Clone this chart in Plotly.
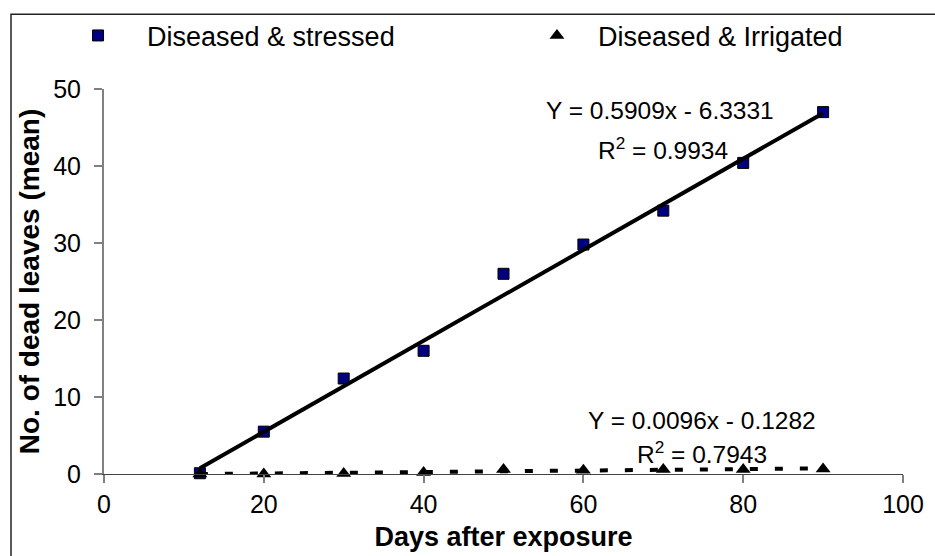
import plotly.graph_objects as go

# Mean number of dead leaves by days after exposure
days = [12, 20, 30, 40, 50, 60, 70, 80, 90]
stressed = [0.1, 5.5, 12.4, 16.0, 26.0, 29.8, 34.2, 40.4, 47.0]
irrigated = [0.0, 0.0, 0.05, 0.2, 0.6, 0.5, 0.6, 0.6, 0.65]

# Linear trendline coefficients (slope, intercept) and R-squared
stressed_fit = [0.5909, -6.3331]
stressed_r2 = 0.9934
irrigated_fit = [0.0096, -0.1282]
irrigated_r2 = 0.7943

x_ticks = [0, 20, 40, 60, 80, 100]
y_ticks = [0, 10, 20, 30, 40, 50]

FONT = "Arial, Liberation Sans, sans-serif"


def fit_line(coef, xs):
    return [coef[0] * x + coef[1] for x in xs]


def fmt_eq(coef):
    sign = "-" if coef[1] < 0 else "+"
    return f"Y = {coef[0]:.4f}x {sign} {abs(coef[1]):.4f}"


trend_x = [days[0], days[-1]]

fig = go.Figure()

fig.add_trace(go.Scatter(
    x=days, y=stressed, mode="markers", name="Diseased & stressed",
    marker=dict(symbol="square", size=11, color="#000080",
                line=dict(color="black", width=1)),
    cliponaxis=False, legend="legend",
))
fig.add_trace(go.Scatter(
    x=days, y=irrigated, mode="markers", name="Diseased & Irrigated",
    marker=dict(symbol="triangle-up", size=13, color="black",
                line=dict(color="black", width=0)),
    cliponaxis=False, legend="legend2",
))
fig.add_trace(go.Scatter(
    x=trend_x, y=fit_line(stressed_fit, trend_x), mode="lines",
    line=dict(color="black", width=4), showlegend=False, cliponaxis=False,
))
fig.add_trace(go.Scatter(
    x=trend_x, y=fit_line(irrigated_fit, trend_x), mode="lines",
    line=dict(color="black", width=4, dash="8px,17px"), showlegend=False,
    cliponaxis=False,
))

annotations = [
    dict(x=69.6, y=47.2, text=fmt_eq(stressed_fit)),
    dict(x=70.0, y=42.3, text=f"R<sup>2</sup> = {stressed_r2:.4f}"),
    dict(x=74.9, y=6.9, text=fmt_eq(irrigated_fit)),
    dict(x=74.9, y=2.8, text=f"R<sup>2</sup> = {irrigated_r2:.4f}"),
]
for a in annotations:
    a.update(xref="x", yref="y", showarrow=False,
             font=dict(family=FONT, size=24.5, color="black"),
             xanchor="center", yanchor="middle")

fig.update_layout(
    width=935, height=556,
    margin=dict(l=104, r=32, t=88, b=82),
    paper_bgcolor="white", plot_bgcolor="white",
    font=dict(family=FONT, size=25, color="black"),
    annotations=annotations,
    legend=dict(orientation="h", x=-0.0688, y=1.135, xanchor="left",
                yanchor="middle", itemwidth=88, bgcolor="rgba(0,0,0,0)",
                font=dict(family=FONT, size=27, color="black")),
    legend2=dict(orientation="h", x=0.5156, y=1.135, xanchor="left",
                 yanchor="middle", itemwidth=72, bgcolor="rgba(0,0,0,0)",
                 font=dict(family=FONT, size=27, color="black")),
    shapes=[dict(type="path", xref="paper", yref="paper",
                 path="M -0.1164,-0.25 L -0.1164,1.1943 L 1.06,1.1943",
                 line=dict(color="#222", width=1.5))],
)

fig.update_xaxes(
    range=[0, 100], tickvals=x_ticks, ticktext=[str(v) for v in x_ticks],
    showgrid=False, zeroline=False, showline=True, linecolor="#444",
    linewidth=1.2, ticks="outside", ticklen=8, tickcolor="#808080",
    tickwidth=1.5, tickfont=dict(family=FONT, size=25), automargin=False,
    title=dict(text="<b>Days after exposure</b>", standoff=10,
               font=dict(family=FONT, size=27)),
)
fig.update_yaxes(
    range=[0, 50], tickvals=y_ticks, ticktext=[str(v) for v in y_ticks],
    showgrid=False, zeroline=False, showline=True, linecolor="#808080",
    linewidth=2, ticks="outside", ticklen=8, tickcolor="#808080",
    tickwidth=1.5, tickfont=dict(family=FONT, size=25), ticklabelstandoff=8,
    automargin=False,
    title=dict(text="<b>No. of dead leaves (mean)</b>", standoff=5,
               font=dict(family=FONT, size=28)),
)

fig.write_html("out.html")
